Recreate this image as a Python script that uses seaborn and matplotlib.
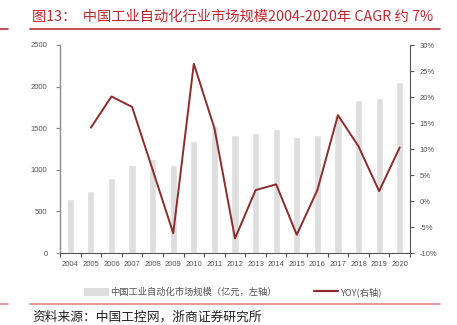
import numpy as np
import pandas as pd
import matplotlib
matplotlib.use("Agg")
import matplotlib.pyplot as plt
import seaborn as sns
from matplotlib.lines import Line2D
from matplotlib.patches import Patch

years = ["2004", "2005", "2006", "2007", "2008", "2009", "2010", "2011", "2012",
         "2013", "2014", "2015", "2016", "2017", "2018", "2019", "2020"]
market_size = [651, 747, 899, 1059, 1131, 1059, 1346, 1526, 1414,
               1442, 1490, 1394, 1422, 1658, 1834, 1866, 2057]
yoy = [np.nan, 14.1, 20.1, 18.1, 6.0, -6.2, 26.4, 14.0, -7.2,
       2.1, 3.2, -6.5, 2.1, 16.5, 10.5, 1.9, 10.3]
left_ticks = [0, 500, 1000, 1500, 2000, 2500]
right_ticks = [-10, -5, 0, 5, 10, 15, 20, 25, 30]

title_text = "图13：  中国工业自动化行业市场规模2004-2020年 CAGR 约 7%"
source_text = "资料来源：中国工控网，浙商证券研究所"
bar_label = "中国工业自动化市场规模（亿元，左轴）"
line_label = "YOY(右轴)"

sns.set_style("white")
plt.rcParams['font.family'] = ['Noto Sans CJK SC', 'DejaVu Sans']

bar_color = "#dedede"
line_color = "#8e2b2b"
axis_color = "#8c8c8c"
tick_text = "#555555"

df = pd.DataFrame({"year": years, "size": market_size, "yoy": yoy})
df["idx"] = np.arange(len(df))

fig = plt.figure(figsize=(4.57, 3.25), dpi=100)
ax = fig.add_axes([60/457, 1 - 253/325, 350/457, 208/325])

sns.barplot(data=df, x="year", y="size", color=bar_color, width=0.35,
            saturation=1, ax=ax)
ax.set_xlim(-0.5, len(years) - 0.5)
ax.set_ylim(0, 2500)
ax.set_yticks(left_ticks)
ax.set_xlabel("")
ax.set_ylabel("")

ax2 = ax.twinx()
sns.lineplot(data=df.dropna(), x="idx", y="yoy", color=line_color, lw=1.4, ax=ax2)
ax2.set_ylim(-10, 30)
ax2.set_yticks(right_ticks)
ax2.set_yticklabels([f"{t}%" for t in right_ticks])
ax2.set_xlim(-0.5, len(years) - 0.5)
ax2.set_xlabel("")
ax2.set_ylabel("")

for a in (ax, ax2):
    for s in a.spines.values():
        s.set_visible(False)
ax.spines["left"].set_visible(True)
ax.spines["left"].set_color(axis_color)
ax.spines["left"].set_linewidth(1.0)
ax.spines["bottom"].set_visible(True)
ax.spines["bottom"].set_color("#555555")
ax.spines["bottom"].set_linewidth(0.8)
ax2.spines["right"].set_visible(True)
ax2.spines["right"].set_color("#555555")
ax2.spines["right"].set_linewidth(0.8)

ax.tick_params(axis="y", which="both", direction="out", length=3, width=0.8,
               color=axis_color, labelsize=5.5, labelcolor=tick_text, pad=6, left=True)
ax2.tick_params(axis="y", which="both", direction="out", length=3, width=0.8,
                color="#555555", labelsize=5.5, labelcolor=tick_text, pad=4, right=True)
ax.tick_params(axis="x", which="major", length=0, labelsize=5.5,
               labelcolor=tick_text, pad=6)
ax.set_xticks(np.arange(len(years) + 1) - 0.5, minor=True)
ax.tick_params(axis="x", which="minor", direction="out", length=3, width=0.8,
               color="#555555", bottom=True)
for lab in ax.get_xticklabels() + ax.get_yticklabels() + ax2.get_yticklabels():
    lab.set_fontfamily(["Liberation Sans", "DejaVu Sans"])

handles = [Patch(facecolor=bar_color, edgecolor="none"),
           Line2D([0], [0], color=line_color, lw=1.6)]
fig.legend(handles, [bar_label, line_label], loc="center",
           bbox_to_anchor=(233/457, 1 - 292/325), ncol=2, frameon=False,
           fontsize=6.7, handlelength=2.6, handleheight=0.9,
           columnspacing=4.0, handletextpad=0.2, labelcolor="#555555")

# title and decorative rules
fig.text(32/457, 1 - 17/325, title_text, color="#c0282d", fontsize=10.3,
         va="center", ha="left")
for y, c in ((29, "#c0282d"), (304, "#e08585")):
    fig.add_artist(Line2D([30/457, 440/457], [1 - y/325, 1 - y/325],
                          color=c, lw=1.2, transform=fig.transFigure))
    fig.add_artist(Line2D([0, 8/457], [1 - y/325, 1 - y/325],
                          color=c, lw=1.2, transform=fig.transFigure))
fig.text(32/457, 1 - 317/325, source_text, color="#222222", fontsize=9.2,
         va="center", ha="left")

fig.savefig("out.png", dpi=100)
